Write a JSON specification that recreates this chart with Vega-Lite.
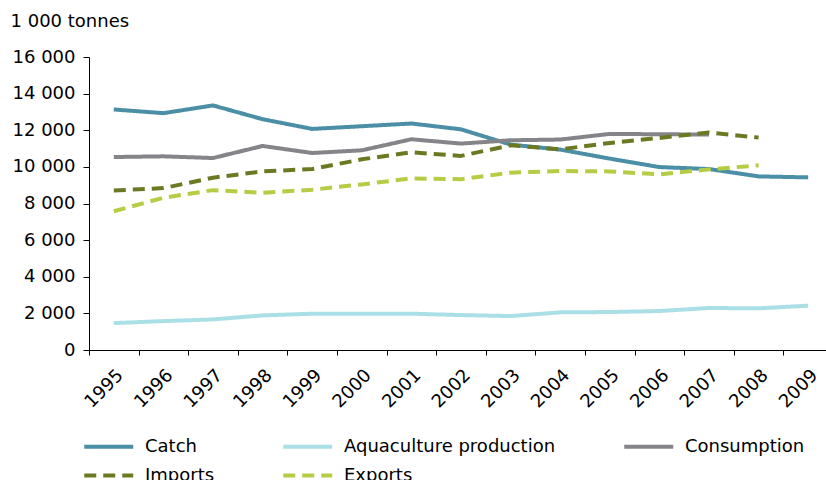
{
  "$schema": "https://vega.github.io/schema/vega-lite/v6.json",
  "autosize": {"type": "none"},
  "width": 744,
  "height": 293,
  "padding": {"left": 89, "top": 57, "right": 0, "bottom": 130},
  "background": "white",
  "config": {
    "view": {"stroke": null},
    "font": "DejaVu Sans",
    "axis": {"grid": false, "domainColor": "#000000", "tickColor": "#000000", "labelColor": "#000000", "labelFontSize": 18, "labelFont": "DejaVu Sans", "domainWidth": 1, "tickWidth": 1}
  },
  "data": {
    "values": [
      {"year": "1995", "series": "Catch", "value": 13135},
      {"year": "1996", "series": "Catch", "value": 12933},
      {"year": "1997", "series": "Catch", "value": 13355},
      {"year": "1998", "series": "Catch", "value": 12604},
      {"year": "1999", "series": "Catch", "value": 12073},
      {"year": "2000", "series": "Catch", "value": 12220},
      {"year": "2001", "series": "Catch", "value": 12368},
      {"year": "2002", "series": "Catch", "value": 12050},
      {"year": "2003", "series": "Catch", "value": 11216},
      {"year": "2004", "series": "Catch", "value": 10944},
      {"year": "2005", "series": "Catch", "value": 10450},
      {"year": "2006", "series": "Catch", "value": 9990},
      {"year": "2007", "series": "Catch", "value": 9882},
      {"year": "2008", "series": "Catch", "value": 9480},
      {"year": "2009", "series": "Catch", "value": 9426},
      {"year": "1995", "series": "Aquaculture production", "value": 1468},
      {"year": "1996", "series": "Aquaculture production", "value": 1578},
      {"year": "1997", "series": "Aquaculture production", "value": 1670},
      {"year": "1998", "series": "Aquaculture production", "value": 1890},
      {"year": "1999", "series": "Aquaculture production", "value": 1982},
      {"year": "2000", "series": "Aquaculture production", "value": 1982},
      {"year": "2001", "series": "Aquaculture production", "value": 1982},
      {"year": "2002", "series": "Aquaculture production", "value": 1908},
      {"year": "2003", "series": "Aquaculture production", "value": 1853},
      {"year": "2004", "series": "Aquaculture production", "value": 2055},
      {"year": "2005", "series": "Aquaculture production", "value": 2073},
      {"year": "2006", "series": "Aquaculture production", "value": 2128},
      {"year": "2007", "series": "Aquaculture production", "value": 2294},
      {"year": "2008", "series": "Aquaculture production", "value": 2275},
      {"year": "2009", "series": "Aquaculture production", "value": 2422},
      {"year": "1995", "series": "Consumption", "value": 10538},
      {"year": "1996", "series": "Consumption", "value": 10576},
      {"year": "1997", "series": "Consumption", "value": 10483},
      {"year": "1998", "series": "Consumption", "value": 11141},
      {"year": "1999", "series": "Consumption", "value": 10758},
      {"year": "2000", "series": "Consumption", "value": 10905},
      {"year": "2001", "series": "Consumption", "value": 11508},
      {"year": "2002", "series": "Consumption", "value": 11272},
      {"year": "2003", "series": "Consumption", "value": 11453},
      {"year": "2004", "series": "Consumption", "value": 11492},
      {"year": "2005", "series": "Consumption", "value": 11800},
      {"year": "2006", "series": "Consumption", "value": 11782},
      {"year": "2007", "series": "Consumption", "value": 11764},
      {"year": "1995", "series": "Imports", "value": 8713},
      {"year": "1996", "series": "Imports", "value": 8840},
      {"year": "1997", "series": "Imports", "value": 9409},
      {"year": "1998", "series": "Imports", "value": 9754},
      {"year": "1999", "series": "Imports", "value": 9882},
      {"year": "2000", "series": "Imports", "value": 10412},
      {"year": "2001", "series": "Imports", "value": 10796},
      {"year": "2002", "series": "Imports", "value": 10600},
      {"year": "2003", "series": "Imports", "value": 11179},
      {"year": "2004", "series": "Imports", "value": 10960},
      {"year": "2005", "series": "Imports", "value": 11306},
      {"year": "2006", "series": "Imports", "value": 11581},
      {"year": "2007", "series": "Imports", "value": 11874},
      {"year": "2008", "series": "Imports", "value": 11600},
      {"year": "1995", "series": "Exports", "value": 7579},
      {"year": "1996", "series": "Exports", "value": 8313},
      {"year": "1997", "series": "Exports", "value": 8730},
      {"year": "1998", "series": "Exports", "value": 8587},
      {"year": "1999", "series": "Exports", "value": 8751},
      {"year": "2000", "series": "Exports", "value": 9042},
      {"year": "2001", "series": "Exports", "value": 9371},
      {"year": "2002", "series": "Exports", "value": 9325},
      {"year": "2003", "series": "Exports", "value": 9682},
      {"year": "2004", "series": "Exports", "value": 9773},
      {"year": "2005", "series": "Exports", "value": 9754},
      {"year": "2006", "series": "Exports", "value": 9590},
      {"year": "2007", "series": "Exports", "value": 9864},
      {"year": "2008", "series": "Exports", "value": 10083}
    ]
  },
  "mark": {"type": "line", "strokeWidth": 4, "strokeCap": "butt", "strokeJoin": "round"},
  "encoding": {
    "x": {
      "field": "year", "type": "ordinal",
      "scale": {"type": "band", "paddingInner": 0, "paddingOuter": 0},
      "axis": {"title": null, "labelAngle": -45, "tickBand": "extent", "tickSize": 5, "labelPadding": 11}
    },
    "y": {
      "field": "value", "type": "quantitative",
      "scale": {"domain": [0, 16000], "nice": false},
      "axis": {
        "values": [0, 2000, 4000, 6000, 8000, 10000, 12000, 14000, 16000],
        "labelExpr": "replace(format(datum.value, ','), ',', ' ')",
        "tickSize": 6, "labelPadding": 8,
        "title": "1 000 tonnes", "titleAngle": 0, "titleAlign": "left", "titleBaseline": "alphabetic",
        "titleX": -79, "titleY": -31, "titleFontSize": 18, "titleFontWeight": "normal", "titleFont": "DejaVu Sans", "titleColor": "#000000"
      }
    },
    "color": {
      "field": "series", "type": "nominal",
      "scale": {
        "domain": ["Catch", "Aquaculture production", "Consumption", "Imports", "Exports"],
        "range": ["#4a8fa5", "#aadfe6", "#858589", "#6b7a22", "#b5cc45"]
      },
      "legend": {
        "title": null, "orient": "none", "legendX": -7, "legendY": 375, "direction": "horizontal", "columns": 3,
        "symbolType": "M-1,0H3", "symbolSize": 600, "symbolStrokeWidth": 4,
        "labelFontSize": 18, "labelFont": "DejaVu Sans", "labelColor": "#000000", "labelOffset": 34, "labelLimit": 400,
        "columnPadding": 60, "rowPadding": 5, "padding": 0
      }
    },
    "strokeDash": {
      "field": "series", "type": "nominal",
      "scale": {
        "domain": ["Catch", "Aquaculture production", "Consumption", "Imports", "Exports"],
        "range": [[1, 0], [1, 0], [1, 0], [12, 7], [12, 7]]
      },
      "legend": null
    }
  }
}
